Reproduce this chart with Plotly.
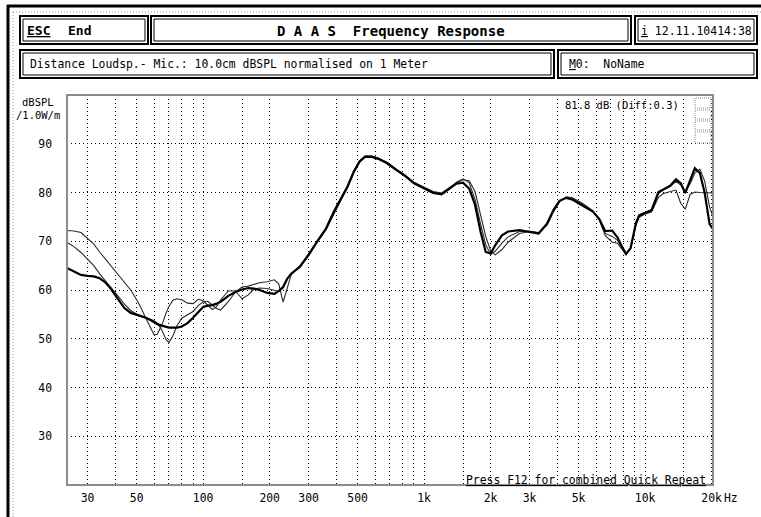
import plotly.graph_objects as go

# ---------------- data ----------------
FREQ = [24.2, 26, 28, 30, 32, 34, 36, 38, 40, 42, 44, 47, 50, 52, 55, 58, 60, 62, 65, 68,
        70, 73, 76, 80, 85, 90, 95, 100, 105, 110, 115, 120, 130, 140, 150, 160, 170, 180, 195, 210,
        220, 230, 240, 250, 275, 300, 330, 360, 390, 420, 450, 480, 510, 540, 580, 620, 680, 750, 820, 900,
        1000, 1100, 1200, 1300, 1400, 1500, 1600, 1700, 1800, 1900, 2000, 2100, 2250, 2400, 2700, 3000, 3300, 3600, 3850, 4100,
        4400, 4700, 5200, 5800, 6200, 6600, 7100, 7500, 7800, 8200, 8600, 9100, 9400, 10000, 10700, 11500, 12100, 13000, 13800, 14500,
        15200, 16000, 16800, 17700, 18600, 19600, 20300]

DB_THIN_A = [72.2, 72.1, 71.8, 70.5, 69.4, 67.8, 66.4, 65.1, 63.9, 62.7, 61.6, 60.0, 58.0, 56.6, 54.2, 52.0, 50.8, 50.9, 52.8, 55.3,
             56.6, 57.9, 58.2, 58.0, 57.3, 57.2, 58.1, 57.8, 56.8, 56.0, 56.6, 58.0, 59.8, 59.8, 58.2, 59.0, 60.2, 60.4, 60.3, 60.0,
             59.7, 60.4, 62.2, 63.4, 65.0, 67.0, 70.0, 72.4, 75.6, 78.4, 81.0, 84.0, 86.2, 87.4, 87.4, 87.0, 86.1, 84.7, 83.5, 82.1,
             81.1, 80.2, 79.9, 80.9, 82.0, 82.6, 82.4, 80.2, 75.6, 71.0, 68.0, 67.2, 68.3, 69.8, 71.6, 72.0, 71.8, 73.3, 76.0, 78.1,
             79.1, 78.9, 77.8, 76.3, 74.4, 71.2, 69.8, 69.6, 68.6, 67.3, 68.4, 73.3, 74.9, 75.6, 76.0, 79.0, 79.8, 80.2, 80.5, 77.8,
             76.6, 79.6, 80.1, 80.0, 80.0, 80.0, 79.9]

DB_THIN_B = [69.8, 68.9, 67.7, 66.4, 65.0, 63.3, 62.0, 60.8, 59.6, 58.3, 57.1, 55.8, 55.1, 54.8, 54.4, 54.0, 53.7, 53.2, 51.8, 49.8,
             49.2, 50.6, 52.6, 54.2, 55.0, 55.6, 56.8, 57.6, 57.7, 57.0, 56.2, 55.9, 57.6, 59.6, 60.6, 60.8, 61.2, 61.5, 61.7, 62.1,
             61.2, 57.5, 60.3, 63.1, 65.1, 67.4, 70.3, 72.7, 76.2, 78.8, 81.4, 84.4, 86.5, 87.5, 87.5, 87.1, 86.2, 84.8, 83.6, 82.0,
             81.0, 80.1, 79.8, 80.8, 82.1, 82.8, 82.0, 78.6, 73.6, 69.3, 67.3, 68.0, 69.6, 70.9, 72.0, 72.1, 71.7, 73.5, 76.2, 78.2,
             79.0, 78.7, 77.6, 76.2, 74.5, 71.6, 71.0, 70.2, 68.9, 67.4, 68.5, 73.6, 75.1, 75.7, 76.3, 79.8, 80.5, 81.2, 82.3, 81.5,
             80.2, 81.8, 84.0, 84.8, 82.4, 77.0, 75.0]

DB_THICK = [64.5, 63.8, 63.1, 62.9, 62.8, 62.4, 61.6, 60.4, 59.0, 57.5, 56.3, 55.3, 54.9, 54.7, 54.3, 53.8, 53.4, 53.0, 52.7, 52.4,
            52.3, 52.3, 52.3, 52.5, 53.2, 54.3, 55.4, 56.5, 56.8, 56.9, 57.2, 57.6, 58.8, 59.6, 60.1, 60.4, 60.3, 60.0, 59.4, 59.2,
            59.8, 60.6, 62.3, 63.3, 64.8, 67.2, 70.1, 72.6, 76.0, 78.6, 81.2, 84.2, 86.3, 87.3, 87.3, 86.9, 86.0, 84.6, 83.4, 81.9,
            80.8, 79.9, 79.6, 80.7, 81.8, 82.0, 80.8, 77.5, 72.0, 67.8, 67.5, 69.2, 71.2, 72.0, 72.3, 71.9, 71.6, 73.6, 76.4, 78.3,
            78.9, 78.5, 77.4, 76.1, 74.6, 72.1, 72.2, 70.8, 69.2, 67.4, 68.6, 73.8, 75.3, 75.8, 76.4, 80.1, 80.7, 81.4, 82.7, 81.9,
            79.9, 82.5, 85.0, 84.0, 80.0, 73.5, 72.5]

X_TICK_VALS = [30, 50, 100, 200, 300, 500, 1000, 2000, 3000, 5000, 10000, 20000]
X_TICK_TEXT = ["30", "50", "100", "200", "300", "500", "1k", "2k", "3k", "5k", "10k", "20k"]
X_GRID_MINOR = [40, 60, 70, 80, 90, 150, 400, 600, 700, 800, 900, 1500,
                4000, 6000, 7000, 8000, 9000, 15000]
Y_TICK_VALS = [30, 40, 50, 60, 70, 80, 90]

TITLE = "D A A S  Frequency Response"
SUBTITLE = "Distance Loudsp.- Mic.: 10.0cm dBSPL normalised on 1 Meter"
STAMP = "12.11.10414:38"
MEMO = "NoName"
LEVEL_NOTE = "81.8 dB (Diff:0.3)"
FOOT_NOTE = "Press F12 for combined Quick Repeat"

# ---------------- geometry helpers ----------------
W, H = 761, 517
PL, PR, PT, PB = 67, 713, 95, 485
FONT = "DejaVu Sans Mono"


def xp(px):
    return (px - PL) / (PR - PL)


def yp(py):
    return (PB - py) / (PB - PT)


fig = go.Figure()

fig.add_trace(go.Scatter(x=FREQ, y=DB_THIN_A, mode="lines",
                         line=dict(color="#2a2a2a", width=1.1), hoverinfo="skip"))
fig.add_trace(go.Scatter(x=FREQ, y=DB_THIN_B, mode="lines",
                         line=dict(color="#2a2a2a", width=1.1), hoverinfo="skip"))
fig.add_trace(go.Scatter(x=FREQ, y=DB_THICK, mode="lines",
                         line=dict(color="#000000", width=2.2), hoverinfo="skip"))

shapes = []


def rect(x0, y0, x1, y1, color="black", width=1, dash="solid"):
    shapes.append(dict(type="rect", xref="paper", yref="paper",
                       x0=xp(x0), x1=xp(x1), y0=yp(y1), y1=yp(y0),
                       line=dict(color=color, width=width, dash=dash),
                       fillcolor="rgba(0,0,0,0)", layer="above"))


def line(x0, y0, x1, y1, color="black", width=1, dash="solid"):
    shapes.append(dict(type="line", xref="paper", yref="paper",
                       x0=xp(x0), x1=xp(x1), y0=yp(y0), y1=yp(y1),
                       line=dict(color=color, width=width, dash=dash), layer="above"))


def dbox(x0, y0, x1, y1):
    rect(x0, y0, x1, y1, width=2)
    rect(x0 + 3, y0 + 3, x1 - 3, y1 - 3, width=1)


# outer frame
line(7, 6, 761, 6, width=3)
line(8, 5, 8, 517, width=3)
line(13, 12, 761, 12, color="#9a9a9a", width=1, dash="1px,2px")
line(13, 12, 13, 517, color="#9a9a9a", width=1, dash="1px,2px")

# header boxes
dbox(20, 16, 148, 44)
dbox(151, 16, 631, 44)
dbox(635, 16, 757, 44)
dbox(20, 50, 554, 78)
dbox(558, 50, 757, 78)

# plot border (grey hatched look)
rect(PL, PT, PR, PB, color="#8c8c8c", width=2)

# little legend boxes top-right
for (a, b) in [(98, 108), (110, 119), (121, 130), (132, 143)]:
    rect(695, a, 711, b, color="#8c8c8c", width=1, dash="1px,1px")

annotations = []


def text(x, y, s, size=11.4, xanchor="left", bold=False, color="black"):
    if bold:
        s = "<b>" + s + "</b>"
    annotations.append(dict(xref="paper", yref="paper", x=xp(x), y=yp(y), text=s,
                            showarrow=False, xanchor=xanchor, yanchor="middle",
                            font=dict(family=FONT, size=size, color=color)))


text(25, 31, "<u>ESC</u>", size=13, bold=True)
text(66, 31, "End", size=13, bold=True)
text(391, 31, TITLE, size=14, xanchor="center", bold=True)
text(639, 31, "<u>i</u> " + STAMP, size=11.5)
text(28, 64, SUBTITLE, size=11.4)
text(567, 64, "<u>M</u>0:  " + MEMO, size=11.4)
text(38, 102, "dBSPL", size=10.5, xanchor="center")
text(38, 115, "/1.0W/m", size=10.5, xanchor="center")
text(681, 105, LEVEL_NOTE, size=10.5, xanchor="right")
text(708, 480, "<u>" + FOOT_NOTE + "</u>", size=11.4, xanchor="right")
text(722, 498, "Hz", size=11.4)

fig.update_layout(
    width=W, height=H,
    margin=dict(l=PL, r=W - PR, t=PT, b=H - PB, pad=0),
    paper_bgcolor="white", plot_bgcolor="white",
    showlegend=False,
    font=dict(family=FONT, size=11, color="black"),
    shapes=shapes, annotations=annotations,
    xaxis=dict(type="log", range=[1.3838, 4.3075],
               tickmode="array", tickvals=X_TICK_VALS, ticktext=X_TICK_TEXT,
               showgrid=True, gridcolor="black", gridwidth=1, griddash="1px,3px",
               minor=dict(tickmode="array", tickvals=X_GRID_MINOR, showgrid=True,
                          gridcolor="black", gridwidth=1, griddash="1px,3px", ticks=""),
               ticks="", ticklabelstandoff=5, zeroline=False,
               showline=False, fixedrange=True,
               tickfont=dict(family=FONT, size=11.4, color="black")),
    yaxis=dict(range=[20, 100], tickmode="array", tickvals=Y_TICK_VALS,
               showgrid=True, gridcolor="black", gridwidth=1, griddash="1px,3px",
               ticks="", ticklabelstandoff=14, zeroline=False,
               showline=False, fixedrange=True,
               tickfont=dict(family=FONT, size=11.4, color="black")),
)

fig.write_html("out.html",
               config={"displayModeBar": False, "staticPlot": True},
               post_script="document.body.style.margin='0px';document.body.style.padding='0px';")
